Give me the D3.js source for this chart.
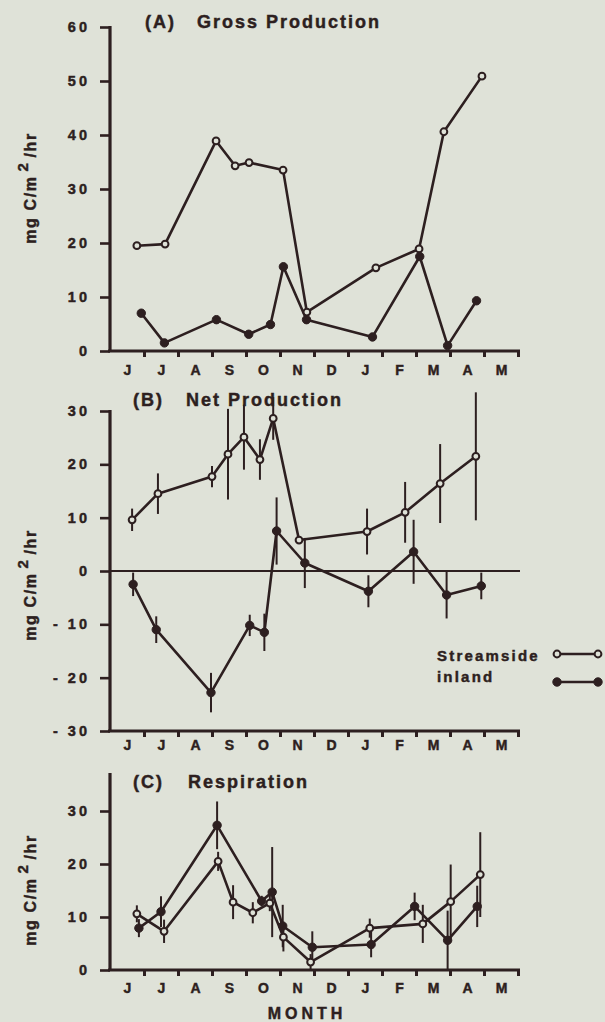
<!DOCTYPE html>
<html><head><meta charset="utf-8">
<script src="https://cdn.jsdelivr.net/npm/d3@7"></script>
<style>
html,body{margin:0;padding:0;background:#dfe2d8;}
svg{display:block;}
text{font-family:"Liberation Sans",Arial,Helvetica,sans-serif;font-weight:bold;fill:#2d1f20;stroke:#2d1f20;stroke-width:0.45px;}
</style></head>
<body>
<svg id="c" width="605" height="1022"></svg>
<script>
// ---------- data ----------
const months = ["J","J","A","S","O","N","D","J","F","M","A","M"];

// (A) Gross production  (x = months since 1 June)
const gpStreamX = [0.79,1.62,3.12,3.68,4.09,5.09,5.79,7.82,9.09,9.82,10.94];
const gpStreamY = [19.5,19.8,38.9,34.3,34.9,33.5,7.2,15.4,18.9,40.6,50.9];
const gpInlandX = [0.92,1.60,3.13,4.08,4.72,5.10,5.78,7.72,9.11,9.93,10.78];
const gpInlandY = [7.0,1.5,5.8,3.1,4.9,15.6,5.8,2.6,17.5,1.0,9.3];

// (B) Net production
const npStreamX = [0.65,1.41,3.0,3.47,3.94,4.41,4.8,5.56,7.56,8.68,9.71,10.76];
const npStreamY = [9.6,14.5,17.7,21.9,25.1,20.9,28.6,5.8,7.4,11.0,16.4,21.5];
const npStreamE = [2.1,3.8,2.0,8.5,6.1,3.8,4.0,0,4.3,5.7,7.4,12.0];
const npInlandX = [0.68,1.36,2.97,4.11,4.54,4.9,5.73,7.6,8.93,9.9,10.92];
const npInlandY = [-2.5,-11.0,-22.8,-10.2,-11.5,7.5,1.5,-3.8,3.6,-4.5,-2.8];
const npInlandE = [2.2,2.5,3.7,2.0,3.5,6.3,4.7,3.0,6.0,4.4,2.5];

// (C) Respiration
const rStreamX = [0.79,1.59,3.18,3.62,4.2,4.7,5.1,5.9,7.64,9.2,10.02,10.89];
const rStreamY = [10.6,7.3,20.5,12.8,10.8,12.6,6.2,1.5,7.9,8.7,12.9,18.0];
const rStreamE = [1.6,2.2,1.8,3.2,2.0,1.5,2.7,1.5,1.8,3.6,7.0,8.0];
const rInlandX = [0.85,1.5,3.15,4.46,4.77,5.08,5.95,7.68,8.96,9.93,10.8];
const rInlandY = [7.9,11.0,27.3,13.0,14.7,8.3,4.3,4.8,12.0,5.6,12.0];
const rInlandE = [1.7,2.9,4.5,1.0,8.5,4.0,3.0,2.4,2.6,5.6,3.9];

const ticksA = [0,10,20,30,40,50,60];
const ticksB = [-30,-20,-10,0,10,20,30];
const ticksC = [0,10,20,30];
const legendLabels = ["Streamside","inland"];

// ---------- drawing ----------
const INK = "#2d1f20", BG = "#dfe2d8";
const svg = d3.select("#c");
svg.append("rect").attr("width",605).attr("height",1022).attr("fill",BG);

const x = d3.scaleLinear().domain([0,12]).range([110,518]);

function zip(xs, ys, es){ return xs.map((v,i)=>({x:v, y:ys[i], e: es ? es[i] : 0})); }

function panel(cfg){
  const y = d3.scaleLinear().domain(cfg.domain).range(cfg.range);
  const g = svg.append("g");
  // y axis ticks + labels
  const ya = d3.axisLeft(y).tickValues(cfg.ticks).tickSize(10).tickSizeOuter(0).tickPadding(12)
    .tickFormat(d => d < 0 ? "- " + Math.abs(d) : d);
  const yg = g.append("g").attr("transform","translate(110,0)").call(ya);
  yg.select(".domain").remove();
  yg.selectAll(".tick line").attr("stroke",INK).attr("stroke-width",2.6);
  yg.selectAll(".tick text").attr("font-size",14.5).attr("letter-spacing",3)
    .attr("fill",INK).attr("dx",2).attr("font-family",null);
  // spine
  g.append("line").attr("x1",110).attr("x2",110).attr("y1",cfg.spineTop).attr("y2",y(cfg.domain[0])+1)
    .attr("stroke",INK).attr("stroke-width",3.2);
  // x axis
  const yb = y(cfg.domain[0]);
  const xa = d3.axisBottom(x).tickValues(d3.range(1,13)).tickSize(6).tickSizeOuter(0).tickFormat("");
  const xg = g.append("g").attr("transform",`translate(0,${yb})`).call(xa);
  xg.select(".domain").remove();
  xg.selectAll(".tick line").attr("stroke",INK).attr("stroke-width",3);
  g.append("line").attr("x1",108).attr("x2",520).attr("y1",yb).attr("y2",yb)
    .attr("stroke",INK).attr("stroke-width",3.2);
  const xl = d3.axisBottom(x).tickValues(d3.range(12).map(i=>i+0.5)).tickSize(0)
    .tickPadding(cfg.labPad).tickFormat((d,i)=>months[i]);
  const xlg = g.append("g").attr("transform",`translate(0,${yb})`).call(xl);
  xlg.select(".domain").remove();
  xlg.selectAll(".tick text").attr("font-size",14).attr("fill",INK).attr("font-family",null);
  // zero line
  if (cfg.zero){
    g.append("line").attr("x1",110).attr("x2",520).attr("y1",y(0)).attr("y2",y(0))
      .attr("stroke",INK).attr("stroke-width",2);
  }
  // title
  const t = g.append("text").attr("y",cfg.titleY).attr("font-size",18).attr("letter-spacing",2);
  t.append("tspan").attr("x",cfg.titleX).text(cfg.tag);
  t.append("tspan").attr("x",cfg.titleX2).text(cfg.title);
  // y label
  const yl = g.append("text").attr("transform",`translate(36,${cfg.labelY}) rotate(-90)`)
    .attr("text-anchor","middle").attr("font-size",16).attr("letter-spacing",1.6);
  yl.append("tspan").text("mg C/m");
  yl.append("tspan").attr("dy",-8).attr("font-size",15).attr("dx",4).text("2");
  yl.append("tspan").attr("dy",8).attr("dx",4).text("/hr");

  const line = d3.line().x(d=>x(d.x)).y(d=>y(d.y));
  cfg.series.forEach(s=>{
    const data = s.data;
    // error bars
    g.selectAll(null).data(data.filter(d=>d.e>0)).enter().append("line")
      .attr("x1",d=>x(d.x)).attr("x2",d=>x(d.x))
      .attr("y1",d=>y(d.y+d.e)).attr("y2",d=>y(d.y-d.e))
      .attr("stroke",INK).attr("stroke-width",2);
    g.append("path").datum(data).attr("d",line).attr("fill","none")
      .attr("stroke",INK).attr("stroke-width",2.6).attr("stroke-linejoin","round");
  });
  cfg.series.forEach(s=>{
    g.selectAll(null).data(s.data).enter().append("circle")
      .attr("cx",d=>x(d.x)).attr("cy",d=>y(d.y))
      .attr("r", s.open ? 3.4 : 4.2)
      .attr("fill", s.open ? BG : INK)
      .attr("stroke",INK).attr("stroke-width", s.open ? 2 : 1);
  });
}

panel({domain:[0,60], range:[351,27], ticks:ticksA, spineTop:26, labPad:14, zero:false,
  titleY:28, titleX:145, titleX2:197, tag:"(A)", title:"Gross Production", labelY:188,
  series:[{open:true, data:zip(gpStreamX,gpStreamY)},{open:false, data:zip(gpInlandX,gpInlandY)}]});

panel({domain:[-30,30], range:[731,411], ticks:ticksB, spineTop:410, labPad:9, zero:true,
  titleY:406, titleX:133, titleX2:186, tag:"(B)", title:"Net Production", labelY:585,
  series:[{open:true, data:zip(npStreamX,npStreamY,npStreamE)},{open:false, data:zip(npInlandX,npInlandY,npInlandE)}]});

panel({domain:[0,30], range:[970,811], ticks:ticksC, spineTop:773, labPad:13, zero:false,
  titleY:788, titleX:133, titleX2:188, tag:"(C)", title:"Respiration", labelY:890,
  series:[{open:true, data:zip(rStreamX,rStreamY,rStreamE)},{open:false, data:zip(rInlandX,rInlandY,rInlandE)}]});

// MONTH
svg.append("text").attr("x",307).attr("y",1019).attr("text-anchor","middle")
  .attr("font-size",16).attr("letter-spacing",4).text("MONTH");

// legend
const lg = svg.append("g");
lg.selectAll(null).data(legendLabels).enter().append("text")
  .attr("x",437).attr("y",(d,i)=>661+i*21).attr("font-size",15).attr("letter-spacing",2.2).text(d=>d);
[{y:654, open:true},{y:682, open:false}].forEach(s=>{
  lg.append("line").attr("x1",557).attr("x2",598).attr("y1",s.y).attr("y2",s.y)
    .attr("stroke",INK).attr("stroke-width",2.6);
  [557,598].forEach(cx=>lg.append("circle").attr("cx",cx).attr("cy",s.y)
    .attr("r", s.open?3.4:4.2).attr("fill", s.open?BG:INK).attr("stroke",INK).attr("stroke-width", s.open?2:1));
});
</script>
</body></html>
